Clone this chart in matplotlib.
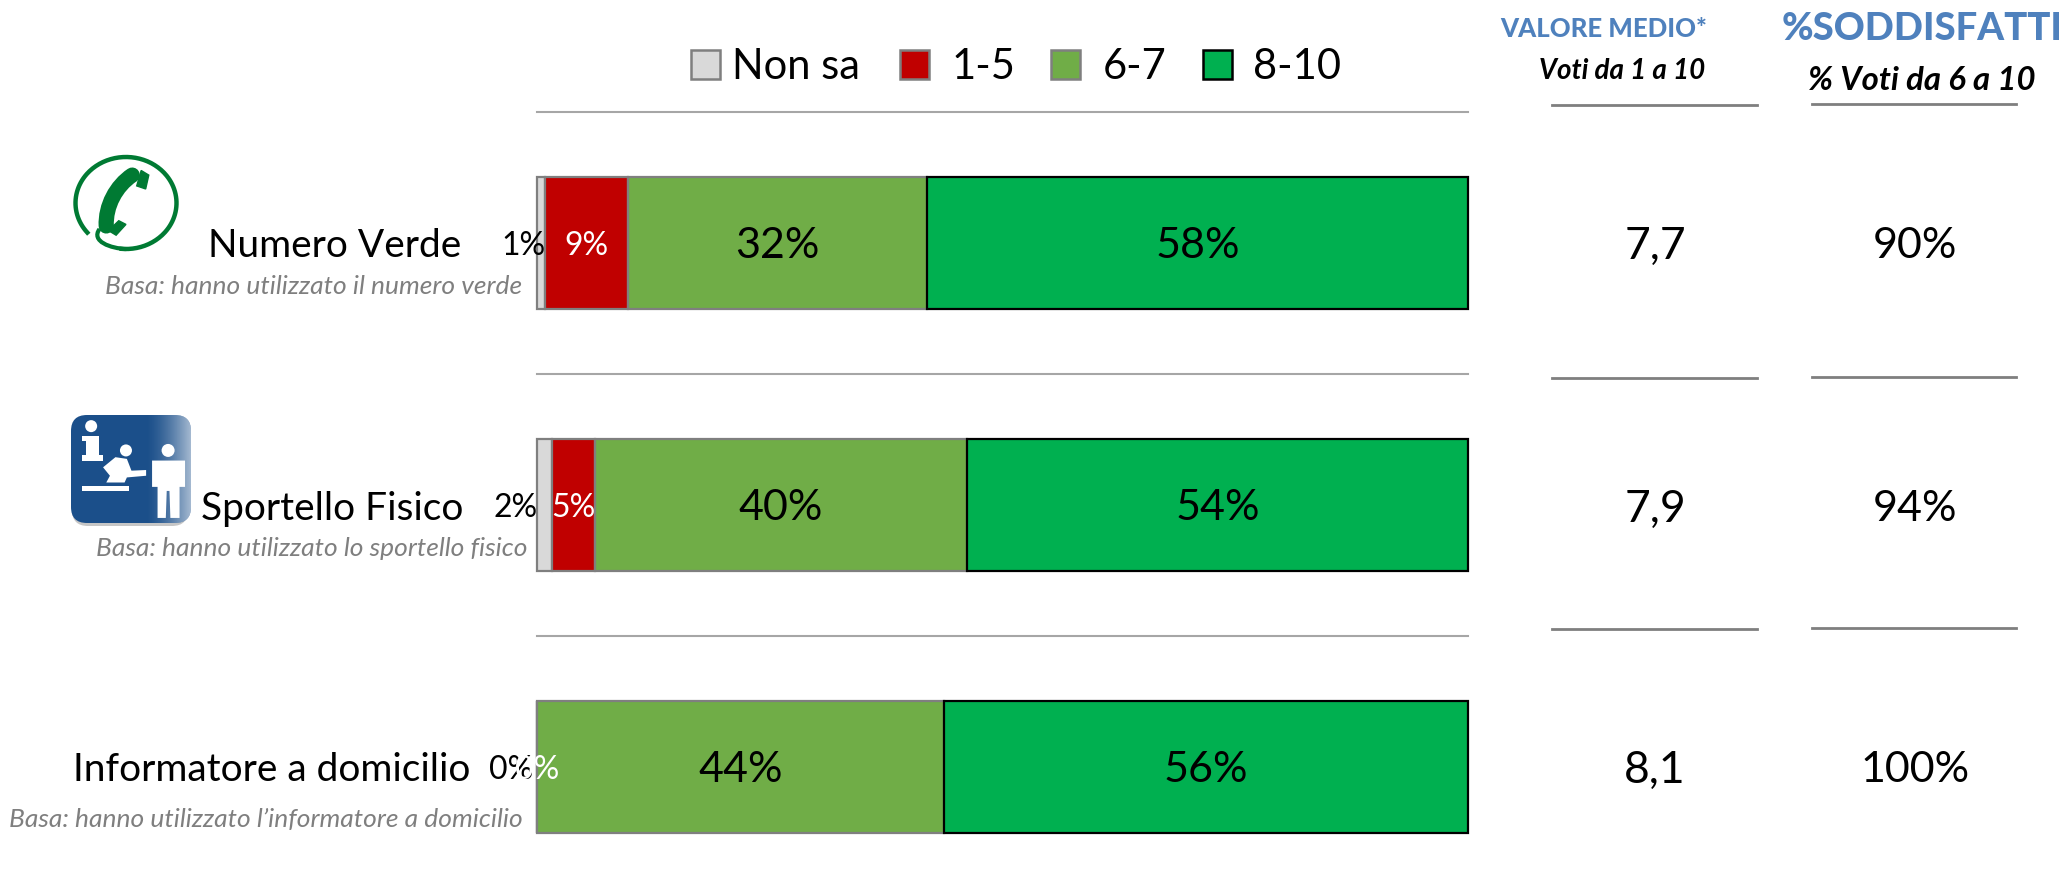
"""
Satisfaction by service channel: stacked bars plus two summary columns.
"""

import numpy as np
import matplotlib
matplotlib.use('Agg')
import matplotlib.pyplot as plt
from matplotlib.patches import Rectangle, FancyBboxPatch, Circle, PathPatch, Polygon
from matplotlib.path import Path

W, H = 2061, 896

channels = ['Numero Verde', 'Sportello Fisico', 'Informatore a domicilio']
bases = ['Basa: hanno utilizzato il numero verde',
         'Basa: hanno utilizzato lo sportello fisico',
         'Basa: hanno utilizzato l’informatore a domicilio']
series_names = ['Non sa', '1-5', '6-7', '8-10']
non_sa = [0.9, 1.6, 0.0]
voti_1_5 = [8.9, 4.6, 0.0]
voti_6_7 = [32.1, 40.0, 43.7]
voti_8_10 = [58.1, 53.8, 56.3]
valore_medio = ['7,7', '7,9', '8,1']
soddisfatti = ['90%', '94%', '100%']

colors = ['#d9d9d9', '#c00000', '#70ad47', '#00b050']
edges = ['#7f7f7f', '#7f7f7f', '#7f7f7f', '#000000']
label_colors = ['black', 'white', 'black', 'black']
label_sizes = [23, 23, 31, 31]

plt.rcParams['font.family'] = ['Lato', 'DejaVu Sans']

fig = plt.figure(figsize=(W / 100, H / 100), dpi=100, facecolor='white')

# overlay in pixel coordinates for the decorations and free text
over = fig.add_axes([0, 0, 1, 1])
over.set_xlim(0, W)
over.set_ylim(H, 0)
over.axis('off')

# bars
bar_left, bar_right, bar_top, bar_bottom = 537, 1468, 177, 833
ax = fig.add_axes([bar_left / W, 1 - bar_bottom / H, (bar_right - bar_left) / W, (bar_bottom - bar_top) / H])
bar_h = 132 / 262
y = np.arange(len(channels))
left = np.zeros(len(channels))
for i, vals in enumerate([non_sa, voti_1_5, voti_6_7, voti_8_10]):
    vals = np.array(vals)
    ax.barh(y, vals, left=left, height=bar_h, color=colors[i], edgecolor=edges[i], linewidth=1.6,
            clip_on=False, zorder=2 + (i == 3))
    for r, v in enumerate(vals):
        txt = f'{v:.0f}%'
        if i == 0:
            # the small "Non sa" label sits outside the bar
            shift = [0.9, 0.1, -0.4][r]
            ax.text(shift, r + 0.012, txt, ha='right', va='center', fontsize=label_sizes[i],
                    color=label_colors[i], zorder=6, clip_on=False)
        elif v > 0 or i == 1:
            ax.text(left[r] + v / 2, r + 0.012, txt, ha='center', va='center', fontsize=label_sizes[i],
                    color=label_colors[i], zorder=7, clip_on=False)
    left += vals
ax.set_xlim(0, 100)
ax.set_ylim(2 + bar_h / 2, -bar_h / 2)
ax.axis('off')
ax.patch.set_alpha(0)

# separators
for yy in [112, 374, 636]:
    over.plot([537, 1468], [yy, yy], color='#a6a6a6', lw=1.5)
for yy in [105, 378, 629]:
    over.plot([1552, 1757], [yy, yy], color='#7f7f7f', lw=2)
for yy in [104, 377, 628]:
    over.plot([1812, 2016], [yy, yy], color='#7f7f7f', lw=2)

# legend
square_x = [691, 900, 1051, 1203]
text_x = [732, 952, 1103, 1253]
for i, name in enumerate(series_names):
    over.add_patch(Rectangle((square_x[i], 50), 29, 29, facecolor=colors[i], edgecolor=edges[i], lw=1.8))
    over.text(text_x[i], 67, name, fontsize=30, ha='left', va='center', color='black')

# row labels
label_right = [461, 463, 470]
label_y = [246, 509, 770]
base_right = [522, 527, 523]
base_y = [287, 549, 819]
for i, name in enumerate(channels):
    over.text(label_right[i], label_y[i], name, fontsize=28, ha='right', va='center')
    over.text(base_right[i], base_y[i], bases[i], fontsize=19, style='italic',
              ha='right', va='center', color='#7f7f7f')

# right hand columns
over.text(1604, 29, 'VALORE MEDIO*', fontsize=18.5, fontweight='black', color='#4f81bd', ha='center', va='center')
over.text(1922, 29, '%SODDISFATTI', fontsize=27.5, fontweight='black', color='#4f81bd', ha='center', va='center')
over.text(1622, 71, 'Voti da 1 a 10', fontsize=20, fontweight='bold', style='italic', ha='center', va='center')
over.text(1922, 81, '% Voti da 6 a 10', fontsize=23.7, fontweight='bold', style='italic', ha='center', va='center')
for i in range(3):
    over.text(1655, label_y[i], valore_medio[i], fontsize=32, ha='center', va='center')
    over.text(1915, label_y[i], soddisfatti[i], fontsize=31, ha='center', va='center')


# phone icon
def ph(zx, zy):
    return (74 + (zx - 168) / 230 * 103, 156 + (zy - 108) / 305 * 94)


green = '#007a33'
t = np.radians(np.linspace(140, 455, 200))
over.plot(126 + 50.5 * np.cos(t), 203 + 46 * np.sin(t), color=green, lw=3.2)
tail = [ph(225, 345), ph(205, 385), ph(250, 408), ph(285, 410)]
over.add_patch(PathPatch(Path(tail, [Path.MOVETO, Path.CURVE4, Path.CURVE4, Path.CURVE4]),
                         fc='none', ec=green, lw=3))
body = [ph(298, 170), ph(262, 205), ph(238, 270), ph(240, 335)]
over.add_patch(PathPatch(Path(body, [Path.MOVETO, Path.CURVE4, Path.CURVE4, Path.CURVE4]),
                         fc='none', ec=green, lw=11, capstyle='round'))
over.add_patch(Polygon([ph(318, 155), ph(335, 170), ph(328, 215), ph(308, 205)], closed=True, fc=green, ec=green))
over.add_patch(Polygon([ph(268, 318), ph(284, 330), ph(262, 365), ph(245, 350)], closed=True, fc=green, ec=green))


# info desk icon
def ic(zx, zy):
    return (71 + (zx - 163) / 262 * 120, 415 + (zy - 885) / 320 * 108)


over.add_patch(FancyBboxPatch((72, 424), 116, 102, boxstyle='round,pad=0,rounding_size=16',
                              fc='#a0a0a0', ec='none', alpha=0.6))
box = FancyBboxPatch((71, 415), 120, 108, boxstyle='round,pad=0,rounding_size=16', fc='#1b4f8a', ec='none', zorder=2)
over.add_patch(box)
shade = np.clip((np.linspace(0, 1, 120) - 0.62) / 0.38, 0, 1).reshape(1, -1) ** 1.5
grad = np.ones((1, 120, 4))
grad[..., 3] = shade * 0.6
im = over.imshow(grad, extent=(71, 191, 523, 415), aspect='auto', zorder=3, interpolation='bilinear')
im.set_clip_path(box)
over.set_xlim(0, W)
over.set_ylim(H, 0)

over.add_patch(Circle(ic(207, 918), 6, fc='white', ec='none', zorder=4))
over.add_patch(Polygon([ic(187, 948), ic(225, 948), ic(225, 1003), ic(232, 1003), ic(232, 1020), ic(187, 1020),
                        ic(187, 1003), ic(195, 1003), ic(195, 962), ic(187, 962)], closed=True, fc='white', ec='none', zorder=4))
over.add_patch(Circle(ic(283, 990), 6, fc='white', ec='none', zorder=4))
over.add_patch(Polygon([ic(233, 1040), ic(260, 1010), ic(285, 1015), ic(295, 1050), ic(327, 1048), ic(327, 1065),
                        ic(285, 1070), ic(280, 1085), ic(240, 1085), ic(248, 1065)], closed=True, fc='white', ec='none', zorder=4))
over.add_patch(Rectangle(ic(187, 1094), 47, 5, fc='white', ec='none', zorder=4))
over.add_patch(Circle(ic(375, 990), 6.5, fc='white', ec='none', zorder=4))
over.add_patch(Polygon([ic(340, 1020), ic(412, 1020), ic(412, 1098), ic(400, 1098), ic(400, 1190), ic(380, 1190),
                        ic(378, 1110), ic(372, 1110), ic(370, 1190), ic(352, 1190), ic(352, 1098), ic(340, 1098)],
                       closed=True, fc='white', ec='none', zorder=4))

plt.savefig('out.png', dpi=100)
plt.close()
